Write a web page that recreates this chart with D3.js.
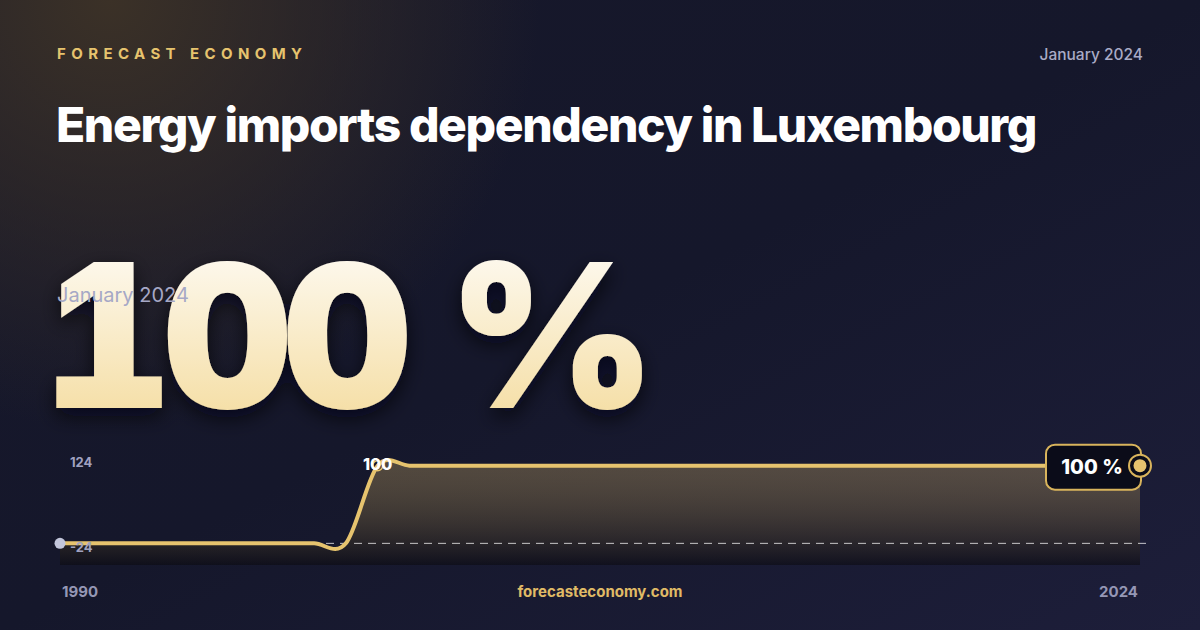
<!DOCTYPE html>
<html>
<head>
<meta charset="utf-8">
<script src="https://cdn.jsdelivr.net/npm/d3@7"></script>
<style>
  html, body { margin: 0; padding: 0; background: #181a2f; }
  svg { display: block; font-family: Inter, "Noto Sans", sans-serif; }
</style>
</head>
<body>
<div id="viz"></div>
<script>
// series: energy imports dependency, %
var years = [1990, 1991, 1992, 1993, 1994, 1995, 1996, 1997, 1998, 1999,
  2000, 2001, 2002, 2003, 2004, 2005, 2006, 2007, 2008, 2009,
  2010, 2011, 2012, 2013, 2014, 2015, 2016, 2017, 2018, 2019,
  2020, 2021, 2022, 2023, 2024];
var values = [0, 0, 0, 0, 0, 0, 0, 0, 0, 0,
  100, 100, 100, 100, 100, 100, 100, 100, 100, 100,
  100, 100, 100, 100, 100, 100, 100, 100, 100, 100,
  100, 100, 100, 100, 100];
var y_ticks = [124, -24];
var x_labels = ['1990', '2024'];
var peak_label = '100';
var last_label = '100 %';
var headline = '100 %';
var period = 'January 2024';

var width = 1200, height = 630;
var gold = '#e6c36e';

var svg = d3.select('#viz')
  .append('svg')
  .attr('width', width)
  .attr('height', height);

var defs = svg.append('defs');

// background gradients
var bg = defs.append('linearGradient')
  .attr('id', 'bg_lin')
  .attr('x1', 0).attr('y1', 0).attr('x2', 1).attr('y2', 1);
bg.append('stop').attr('offset', '0%').attr('stop-color', '#17182a');
bg.append('stop').attr('offset', '50%').attr('stop-color', '#15172b');
bg.append('stop').attr('offset', '100%').attr('stop-color', '#1d1e3a');

var glow = defs.append('radialGradient')
  .attr('id', 'bg_glow')
  .attr('gradientUnits', 'userSpaceOnUse')
  .attr('cx', 110).attr('cy', 0).attr('r', 430);
glow.append('stop').attr('offset', '0%').attr('stop-color', '#3b3127').attr('stop-opacity', 1);
glow.append('stop').attr('offset', '100%').attr('stop-color', '#3b3127').attr('stop-opacity', 0);

var big_grad = defs.append('linearGradient')
  .attr('id', 'big_grad')
  .attr('x1', 0).attr('y1', 0).attr('x2', 0).attr('y2', 1);
big_grad.append('stop').attr('offset', '0%').attr('stop-color', '#ffffff');
big_grad.append('stop').attr('offset', '100%').attr('stop-color', '#f3d894');

var shadow = defs.append('filter')
  .attr('id', 'big_shadow')
  .attr('x', '-10%').attr('y', '-10%').attr('width', '130%').attr('height', '140%');
shadow.append('feDropShadow')
  .attr('dx', 0).attr('dy', 8)
  .attr('stdDeviation', 10)
  .attr('flood-color', '#05060d')
  .attr('flood-opacity', 0.7);

var area_grad = defs.append('linearGradient')
  .attr('id', 'area_grad')
  .attr('gradientUnits', 'userSpaceOnUse')
  .attr('x1', 0).attr('y1', 458).attr('x2', 0).attr('y2', 565);
area_grad.append('stop').attr('offset', '0%').attr('stop-color', '#e8c36e').attr('stop-opacity', 0.29);
area_grad.append('stop').attr('offset', '100%').attr('stop-color', '#0a090e').attr('stop-opacity', 0.55);

svg.append('rect')
  .attr('width', width).attr('height', height)
  .attr('fill', 'url(#bg_lin)');
svg.append('rect')
  .attr('width', width).attr('height', height)
  .attr('fill', 'url(#bg_glow)');

// header
svg.append('text')
  .attr('x', 57).attr('y', 59)
  .attr('fill', gold)
  .style('font-size', '15px')
  .style('font-weight', 700)
  .style('letter-spacing', '5.4px')
  .text('FORECAST ECONOMY');

svg.append('text')
  .attr('x', 1143).attr('y', 60)
  .attr('text-anchor', 'end')
  .attr('fill', '#a9abc6')
  .style('font-size', '15.5px')
  .style('font-weight', 500)
  .text(period);

svg.append('text')
  .attr('x', 56).attr('y', 142)
  .attr('fill', '#ffffff')
  .style('font-size', '48px')
  .style('font-weight', 800)
  .style('letter-spacing', '-1.4px')
  .text('Energy imports dependency in Luxembourg');

// headline figure
svg.append('text')
  .attr('x', 43).attr('y', 408)
  .attr('fill', 'url(#big_grad)')
  .attr('filter', 'url(#big_shadow)')
  .style('font-size', '200px')
  .style('font-weight', 900)
  .style('font-variant-numeric', 'tabular-nums')
  .style('letter-spacing', '-9px')
  .text(headline);

svg.append('text')
  .attr('x', 57).attr('y', 302)
  .attr('fill', '#a6a8c6')
  .style('font-size', '20px')
  .style('font-weight', 400)
  .text(period);

// chart
var x = d3.scaleLinear()
  .domain([years[0], years[years.length - 1]])
  .range([60, 1140]);

var y = d3.scaleLinear()
  .domain([-24, 124])
  .range([562, 447]);

var area_bottom = 565;

var data = years.map(function(d, i) { return {year: d, value: values[i]}; });

var chart = svg.append('g').classed('chart', true);

var area = d3.area()
  .x(function(d) { return x(d.year); })
  .y0(area_bottom)
  .y1(function(d) { return y(d.value); })
  .curve(d3.curveCardinal.tension(0));

var line = d3.line()
  .x(function(d) { return x(d.year); })
  .y(function(d) { return y(d.value); })
  .curve(d3.curveCardinal.tension(0));

chart.append('path')
  .datum(data)
  .attr('d', area)
  .attr('fill', 'url(#area_grad)');

// zero baseline
chart.append('line')
  .attr('x1', x(years[0])).attr('x2', x(years[years.length - 1]) + 6)
  .attr('y1', y(0)).attr('y2', y(0))
  .attr('stroke', 'rgba(255,255,255,0.75)')
  .attr('stroke-width', 1)
  .attr('stroke-dasharray', '8,6');

chart.append('path')
  .datum(data)
  .attr('d', line)
  .attr('fill', 'none')
  .attr('stroke', gold)
  .attr('stroke-width', 4)
  .attr('stroke-linejoin', 'round');

// start dot
chart.append('circle')
  .attr('cx', x(years[0])).attr('cy', y(values[0]))
  .attr('r', 5.5)
  .attr('fill', '#c3c6db');

// y labels, drawn over the line
chart.selectAll('.y_label')
  .data(y_ticks)
  .enter()
  .append('text')
  .classed('y_label', true)
  .attr('x', 70)
  .attr('y', function(d, i) { return i === 0 ? 467 : 552; })
  .attr('fill', '#a0a2c0')
  .style('font-size', '13px')
  .style('font-weight', 700)
  .text(function(d) { return d; });

// peak marker
var peak_i = values.indexOf(d3.max(values));
chart.append('circle')
  .attr('cx', x(years[peak_i])).attr('cy', y(values[peak_i]))
  .attr('r', 5)
  .attr('fill', 'none')
  .attr('stroke', gold)
  .attr('stroke-width', 1.5);

chart.append('text')
  .attr('x', x(years[peak_i])).attr('y', y(values[peak_i]) + 4)
  .attr('text-anchor', 'middle')
  .attr('fill', '#ffffff')
  .style('font-size', '16px')
  .style('font-weight', 800)
  .text(peak_label);

// last value tag
var last_x = x(years[years.length - 1]);
var last_y = y(values[values.length - 1]);

chart.append('rect')
  .attr('x', last_x - 94).attr('y', last_y - 21)
  .attr('width', 95).attr('height', 45)
  .attr('rx', 9)
  .attr('fill', '#0b0c19')
  .attr('stroke', '#d9b45c')
  .attr('stroke-width', 2);

chart.append('text')
  .attr('x', last_x - 48).attr('y', last_y + 8)
  .attr('text-anchor', 'middle')
  .attr('fill', '#ffffff')
  .style('font-size', '20px')
  .style('font-weight', 800)
  .text(last_label);

chart.append('circle')
  .attr('cx', last_x).attr('cy', last_y)
  .attr('r', 11)
  .attr('fill', '#0b0c19')
  .attr('stroke', '#d9b45c')
  .attr('stroke-width', 2);

chart.append('circle')
  .attr('cx', last_x).attr('cy', last_y)
  .attr('r', 6.5)
  .attr('fill', gold);

// x labels and footer
svg.append('text')
  .attr('x', 62).attr('y', 597)
  .attr('fill', '#9597b5')
  .style('font-size', '15px')
  .style('font-weight', 700)
  .text(x_labels[0]);

svg.append('text')
  .attr('x', 1138).attr('y', 597)
  .attr('text-anchor', 'end')
  .attr('fill', '#9597b5')
  .style('font-size', '15px')
  .style('font-weight', 700)
  .text(x_labels[1]);

svg.append('text')
  .attr('x', 600).attr('y', 597)
  .attr('text-anchor', 'middle')
  .attr('fill', '#e0bb66')
  .style('font-size', '15px')
  .style('font-weight', 700)
  .text('forecasteconomy.com');
</script>
</body>
</html>
